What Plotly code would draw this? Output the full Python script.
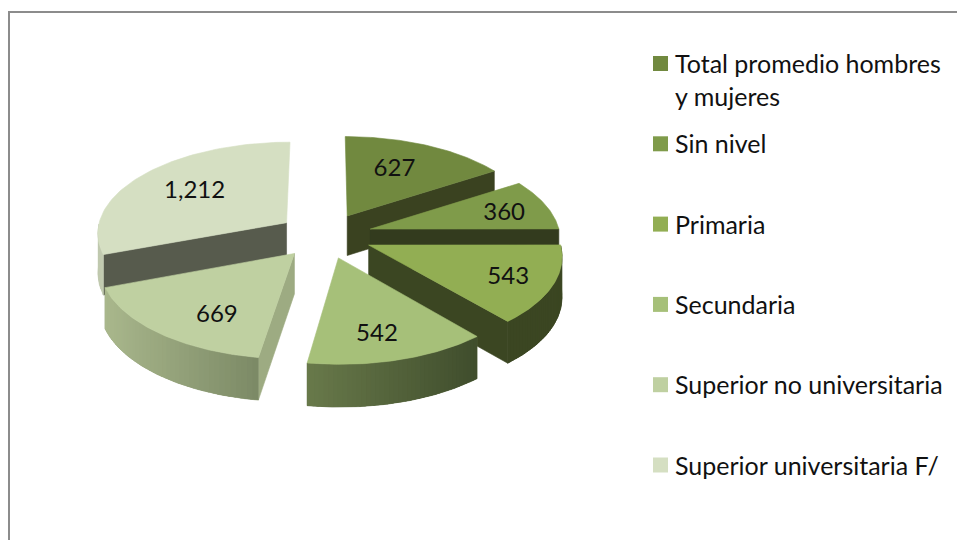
import numpy as np
import plotly.graph_objects as go

CATEGORIES = ["Total promedio hombres<br>y mujeres", "Sin nivel", "Primaria", "Secundaria",
              "Superior no universitaria", "Superior universitaria F/"]
VALUES = [627, 360, 543, 542, 669, 1212]

TOP_COLORS = ["#71893f", "#7f9b4a", "#92ae53", "#a6c079", "#bfd0a1", "#d5dfc2"]
RADIAL_COLORS = ["#3a4220", "#333b1e", "#3b4622", "#3f4d2c", "#9dab82", "#575b4d"]
# left and right end of the shaded outer wall
ARC_COLORS = [("#3a4220", "#3a4220"), ("#333b1e", "#333b1e"), ("#3b4622", "#3b4622"),
              ("#68794a", "#3f4d2c"), ("#a9b78c", "#7b8965"), ("#bfc8ad", "#c3ccb2")]
LABEL_RADIUS = [0.82, 1.0, 1.0, 0.97, 0.9, 0.92]
# pixel nudges for the value labels
LABEL_NUDGE_X = [0, 2, 3, -4, 8, 6]
LABEL_NUDGE_Y = [-4, 4, 3, 6, 12, 2]
DRAW_ORDER = [0, 1, 5, 2, 4, 3]

# projection of the tilted pie, in pixels of the page
CX, CY = 325, 235.5
RX, RY = 190, 91
PERSPECTIVE = 0.1
EXPLODE = 0.25
DEPTH = 40
FONT = "Lato"
LABEL_SIZE = 24
LEGEND_SIZE = 25
TEXT_COLOR = "#111111"
WIDTH, HEIGHT = 957, 540


def project(u, v, down=False):
    w = 1 + PERSPECTIVE * v
    x = CX + RX * u / w
    y = CY - RY * v / w
    if down:
        y = y + DEPTH / np.sqrt(w)
    return x, y


def hex_mix(a, b, t):
    ca = [int(a[i:i + 2], 16) for i in (1, 3, 5)]
    cb = [int(b[i:i + 2], 16) for i in (1, 3, 5)]
    return "rgb({:.0f},{:.0f},{:.0f})".format(*[p + (q - p) * t for p, q in zip(ca, cb)])


def add_poly(fig, x, y, color, width=0.6):
    fig.add_trace(go.Scatter(x=x, y=y, mode="lines", fill="toself", fillcolor=color,
                             line=dict(color=color, width=width), hoverinfo="skip", showlegend=False))


def add_slice(fig, i, start, end):
    mid = (start + end) / 2
    ou, ov = EXPLODE * np.sin(mid), EXPLODE * np.cos(mid)
    theta = np.linspace(start, end, 80)
    rim_u, rim_v = ou + np.sin(theta), ov + np.cos(theta)

    # cut faces, only the ones turned to the viewer
    for edge, visible in ((start, np.sin(start) < 0), (end, np.sin(end) > 0)):
        if visible:
            eu, ev = ou + np.sin(edge), ov + np.cos(edge)
            x0, y0 = project(ou, ov)
            x1, y1 = project(eu, ev)
            x2, y2 = project(eu, ev, down=True)
            x3, y3 = project(ou, ov, down=True)
            add_poly(fig, [x0, x1, x2, x3, x0], [y0, y1, y2, y3, y0], RADIAL_COLORS[i])

    # outer wall, cut in strips for the shading
    front = np.cos(theta) < 0
    if front.any():
        tx, ty = project(rim_u[front], rim_v[front])
        bx, by = project(rim_u[front], rim_v[front], down=True)
        span = max(tx.max() - tx.min(), 1)
        add_poly(fig, np.r_[tx, bx[::-1], tx[0]], np.r_[ty, by[::-1], ty[0]], hex_mix(*ARC_COLORS[i], 0.5))
        for k in range(0, len(tx) - 1, 2):
            e = min(k + 3, len(tx) - 1)
            t = ((tx[k] + tx[e]) / 2 - tx.min()) / span
            add_poly(fig, [tx[k], tx[e], bx[e], bx[k], tx[k]],
                     [ty[k], ty[e], by[e], by[k], ty[k]], hex_mix(*ARC_COLORS[i], t), width=0)

    px, py = project(np.r_[ou, rim_u, ou], np.r_[ov, rim_v, ov])
    add_poly(fig, px, py, TOP_COLORS[i])


fig = go.Figure()

edges = np.radians(np.r_[0, np.cumsum(VALUES)] / sum(VALUES) * 360)
for i in DRAW_ORDER:
    add_slice(fig, i, edges[i], edges[i + 1])

mids = (edges[:-1] + edges[1:]) / 2
lx, ly = project(np.array(LABEL_RADIUS) * np.sin(mids), np.array(LABEL_RADIUS) * np.cos(mids))
fig.add_trace(go.Scatter(x=lx + LABEL_NUDGE_X, y=ly + LABEL_NUDGE_Y, mode="text",
                         text=[f"{v:,}" for v in VALUES], textposition="middle center",
                         textfont=dict(family=FONT, size=LABEL_SIZE, color=TEXT_COLOR),
                         hoverinfo="skip", showlegend=False))

# legend drawn by hand, rows are evenly spaced whatever the line count
rows = [63.5 + 80.3 * i for i in range(len(CATEGORIES))]
fig.add_trace(go.Scatter(x=[660.5] * len(rows), y=rows, mode="markers",
                         marker=dict(symbol="square", size=15, color=TOP_COLORS),
                         hoverinfo="skip", showlegend=False))
for name, row in zip(CATEGORIES, rows):
    fig.add_annotation(x=673.5, y=row - 16.5, text=name, showarrow=False, xanchor="left", yanchor="top",
                       align="left", xref="x", yref="y", borderpad=0,
                       font=dict(family=FONT, size=LEGEND_SIZE, color=TEXT_COLOR))

fig.add_shape(type="rect", xref="x", yref="y", x0=9, y0=12, x1=1000, y1=600,
              line=dict(color="#8c8c8c", width=2), layer="below")

fig.update_layout(
    width=WIDTH, height=HEIGHT, margin=dict(l=0, r=0, t=0, b=0),
    paper_bgcolor="white", plot_bgcolor="white", showlegend=False,
    xaxis=dict(range=[0, WIDTH], visible=False, fixedrange=True),
    yaxis=dict(range=[HEIGHT, 0], visible=False, fixedrange=True),
)

# drop the default body margin so the figure fills the window
fig.write_html("out.html", config=dict(displayModeBar=False),
               post_script="document.body.style.margin='0';document.documentElement.style.overflow='hidden';")
